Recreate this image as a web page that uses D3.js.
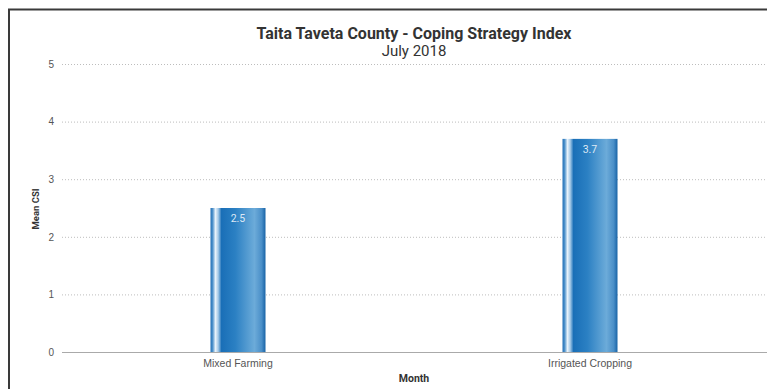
<!DOCTYPE html>
<html>
<head>
<meta charset="utf-8">
<script src="https://cdn.jsdelivr.net/npm/d3@7"></script>
<style>
  html, body { margin: 0; padding: 0; background: #fff; }
  svg { display: block; font-family: Roboto, "Liberation Sans", Arial, sans-serif; }
</style>
</head>
<body>
<svg id="chart" width="767" height="389"></svg>
<script>
// Livelihood zones and their mean Coping Strategy Index
const zones = ["Mixed Farming", "Irrigated Cropping"];
const meanCSI = [2.5, 3.7];
const yTicks = [0, 1, 2, 3, 4, 5];

const W = 767, H = 389;
const margin = { left: 62, right: 1, top: 64, bottom: 37 };

const svg = d3.select("#chart");

// Frame (top and left edges of the panel)
svg.append("path")
  .attr("d", `M9,${H} V9.5 H${W}`)
  .attr("fill", "none")
  .attr("stroke", "#3a3a3a")
  .attr("stroke-width", 2);

const x = d3.scaleBand()
  .domain(zones)
  .range([margin.left, W - margin.right])
  .paddingInner(0)
  .paddingOuter(0);

const y = d3.scaleLinear()
  .domain([0, 5])
  .range([H - margin.bottom, margin.top]);

// Cylinder-style gradient for the bars
const defs = svg.append("defs");
const grad = defs.append("linearGradient")
  .attr("id", "barGrad")
  .attr("x1", "0").attr("x2", "1").attr("y1", "0").attr("y2", "0");
[
  [0.00, "#2470b6"],
  [0.04, "#4f93cc"],
  [0.09, "#e9f3fb"],
  [0.14, "#a5c9e7"],
  [0.20, "#1a6fb7"],
  [0.45, "#2b80c3"],
  [0.80, "#6cabd9"],
  [0.93, "#4a8fc8"],
  [1.00, "#1863a6"]
].forEach(([o, c]) => grad.append("stop").attr("offset", o).attr("stop-color", c));

// Horizontal grid lines
const grid = svg.append("g");
yTicks.filter(t => t > 0).forEach(t => {
  grid.append("line")
    .attr("x1", margin.left).attr("x2", W)
    .attr("y1", y(t) + 0.5).attr("y2", y(t) + 0.5)
    .attr("stroke", "#bdbdbd")
    .attr("stroke-width", 1)
    .attr("stroke-dasharray", "1,2");
});

// Y axis tick labels
const yAxis = d3.axisLeft(y).tickValues(yTicks).tickSize(0).tickPadding(8).tickFormat(d3.format("d"));
const gy = svg.append("g").attr("transform", `translate(${margin.left},0)`).call(yAxis);
gy.select(".domain").remove();
gy.selectAll("text").attr("fill", "#555").attr("font-size", 10);

// Bars
const barW = 55;
svg.append("g").selectAll("rect")
  .data(zones)
  .join("rect")
  .attr("x", (d) => x(d) + x.bandwidth() / 2 - barW / 2)
  .attr("y", (d, i) => y(meanCSI[i]))
  .attr("width", barW)
  .attr("height", (d, i) => y(0) - y(meanCSI[i]))
  .attr("fill", "url(#barGrad)");

// Value labels inside bar tops
svg.append("g").selectAll("text")
  .data(zones)
  .join("text")
  .attr("x", (d) => x(d) + x.bandwidth() / 2)
  .attr("y", (d, i) => y(meanCSI[i]) + 14)
  .attr("text-anchor", "middle")
  .attr("font-size", 10.5)
  .attr("fill", "#dde9f5")
  .text((d, i) => meanCSI[i]);

// Baseline and category labels
const xAxis = d3.axisBottom(x).tickSize(0).tickPadding(8);
const gx = svg.append("g").attr("transform", `translate(0,${y(0)})`).call(xAxis);
gx.select(".domain").attr("stroke", "#aaa").attr("stroke-width", 1.2).attr("d", `M${margin.left},0.5H${W}`);
gx.selectAll("text").attr("fill", "#555").attr("font-size", 10.5);

// Axis titles
const cx = (margin.left + W - margin.right) / 2;
svg.append("text")
  .attr("x", cx).attr("y", 382)
  .attr("text-anchor", "middle")
  .attr("font-size", 10.5).attr("font-weight", "bold").attr("fill", "#333")
  .text("Month");

svg.append("text")
  .attr("transform", `translate(39,${(y(2) + y(3)) / 2 + 1}) rotate(-90)`)
  .attr("text-anchor", "middle")
  .attr("font-size", 9.5).attr("font-weight", "bold").attr("fill", "#333")
  .text("Mean CSI");

// Title and subtitle
svg.append("text")
  .attr("x", cx).attr("y", 39)
  .attr("text-anchor", "middle")
  .attr("font-size", 16).attr("font-weight", "bold").attr("fill", "#333")
  .text("Taita Taveta County - Coping Strategy Index");

svg.append("text")
  .attr("x", cx).attr("y", 56)
  .attr("text-anchor", "middle")
  .attr("font-size", 15).attr("fill", "#333")
  .text("July 2018");
</script>
</body>
</html>
